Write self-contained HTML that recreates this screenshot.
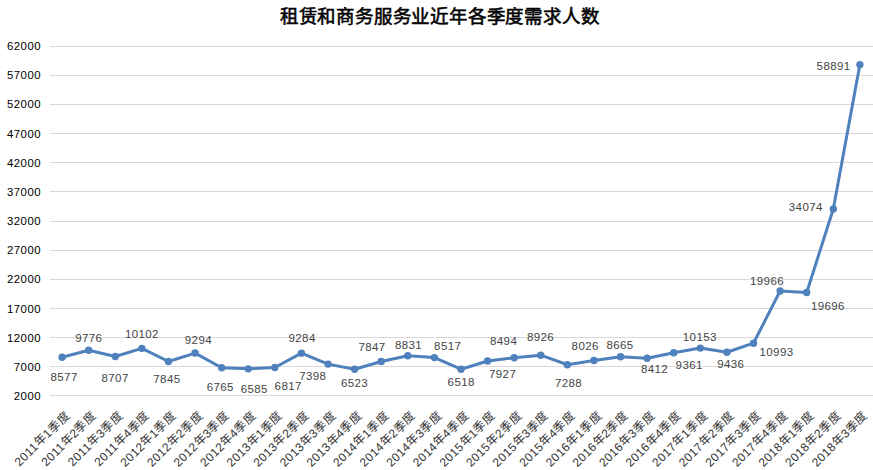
<!DOCTYPE html>
<html lang="zh-CN"><head><meta charset="utf-8"><style>
html,body{margin:0;padding:0;background:#fff;width:873px;height:470px;overflow:hidden}
svg{display:block}
text{font-family:"Liberation Sans",sans-serif}
</style></head><body>
<svg width="873" height="470" viewBox="0 0 873 470">
<rect width="873" height="470" fill="#fff"/>
<text x="439.6" y="22.8" text-anchor="middle" font-size="18.5" letter-spacing="-0.2" stroke="#000" stroke-width="0.55" fill="#000">租赁和商务服务业近年各季度需求人数</text>
<line x1="50" y1="46.5" x2="873" y2="46.5" stroke="#d9d9d9" stroke-width="1"/>
<text x="41.1" y="50.1" text-anchor="end" font-size="11.4" letter-spacing="0.5" fill="#000">62000</text>
<line x1="50" y1="75.5" x2="873" y2="75.5" stroke="#d9d9d9" stroke-width="1"/>
<text x="41.1" y="79.3" text-anchor="end" font-size="11.4" letter-spacing="0.5" fill="#000">57000</text>
<line x1="50" y1="104.5" x2="873" y2="104.5" stroke="#d9d9d9" stroke-width="1"/>
<text x="41.1" y="108.4" text-anchor="end" font-size="11.4" letter-spacing="0.5" fill="#000">52000</text>
<line x1="50" y1="133.5" x2="873" y2="133.5" stroke="#d9d9d9" stroke-width="1"/>
<text x="41.1" y="137.6" text-anchor="end" font-size="11.4" letter-spacing="0.5" fill="#000">47000</text>
<line x1="50" y1="162.5" x2="873" y2="162.5" stroke="#d9d9d9" stroke-width="1"/>
<text x="41.1" y="166.8" text-anchor="end" font-size="11.4" letter-spacing="0.5" fill="#000">42000</text>
<line x1="50" y1="191.5" x2="873" y2="191.5" stroke="#d9d9d9" stroke-width="1"/>
<text x="41.1" y="195.9" text-anchor="end" font-size="11.4" letter-spacing="0.5" fill="#000">37000</text>
<line x1="50" y1="221.5" x2="873" y2="221.5" stroke="#d9d9d9" stroke-width="1"/>
<text x="41.1" y="225.1" text-anchor="end" font-size="11.4" letter-spacing="0.5" fill="#000">32000</text>
<line x1="50" y1="250.5" x2="873" y2="250.5" stroke="#d9d9d9" stroke-width="1"/>
<text x="41.1" y="254.3" text-anchor="end" font-size="11.4" letter-spacing="0.5" fill="#000">27000</text>
<line x1="50" y1="279.5" x2="873" y2="279.5" stroke="#d9d9d9" stroke-width="1"/>
<text x="41.1" y="283.4" text-anchor="end" font-size="11.4" letter-spacing="0.5" fill="#000">22000</text>
<line x1="50" y1="308.5" x2="873" y2="308.5" stroke="#d9d9d9" stroke-width="1"/>
<text x="41.1" y="312.6" text-anchor="end" font-size="11.4" letter-spacing="0.5" fill="#000">17000</text>
<line x1="50" y1="337.5" x2="873" y2="337.5" stroke="#d9d9d9" stroke-width="1"/>
<text x="41.1" y="341.8" text-anchor="end" font-size="11.4" letter-spacing="0.5" fill="#000">12000</text>
<line x1="50" y1="366.5" x2="873" y2="366.5" stroke="#d9d9d9" stroke-width="1"/>
<text x="41.1" y="370.9" text-anchor="end" font-size="11.4" letter-spacing="0.5" fill="#000">7000</text>
<line x1="50" y1="395.5" x2="873" y2="395.5" stroke="#d9d9d9" stroke-width="1"/>
<text x="41.1" y="400.1" text-anchor="end" font-size="11.4" letter-spacing="0.5" fill="#000">2000</text>
<path d="M62.10,357.24 L88.69,350.27 L115.29,356.49 L141.88,348.37 L168.47,361.50 L195.06,353.07 L221.66,367.78 L248.25,368.83 L274.84,367.48 L301.44,353.13 L328.03,364.10 L354.62,369.19 L381.22,361.49 L407.81,355.77 L434.40,357.59 L461.00,369.22 L487.59,361.02 L514.18,357.73 L540.77,355.21 L567.37,364.74 L593.96,360.45 L620.55,356.73 L647.15,358.20 L673.74,352.68 L700.33,348.08 L726.93,352.25 L753.52,343.19 L780.11,291.00 L806.70,292.57 L833.30,208.94 L859.89,64.58" fill="none" stroke="#4f81bd" stroke-width="3" stroke-linejoin="round" stroke-linecap="round"/>
<circle cx="62.10" cy="357.24" r="3.7" fill="#4f81bd"/>
<circle cx="88.69" cy="350.27" r="3.7" fill="#4f81bd"/>
<circle cx="115.29" cy="356.49" r="3.7" fill="#4f81bd"/>
<circle cx="141.88" cy="348.37" r="3.7" fill="#4f81bd"/>
<circle cx="168.47" cy="361.50" r="3.7" fill="#4f81bd"/>
<circle cx="195.06" cy="353.07" r="3.7" fill="#4f81bd"/>
<circle cx="221.66" cy="367.78" r="3.7" fill="#4f81bd"/>
<circle cx="248.25" cy="368.83" r="3.7" fill="#4f81bd"/>
<circle cx="274.84" cy="367.48" r="3.7" fill="#4f81bd"/>
<circle cx="301.44" cy="353.13" r="3.7" fill="#4f81bd"/>
<circle cx="328.03" cy="364.10" r="3.7" fill="#4f81bd"/>
<circle cx="354.62" cy="369.19" r="3.7" fill="#4f81bd"/>
<circle cx="381.22" cy="361.49" r="3.7" fill="#4f81bd"/>
<circle cx="407.81" cy="355.77" r="3.7" fill="#4f81bd"/>
<circle cx="434.40" cy="357.59" r="3.7" fill="#4f81bd"/>
<circle cx="461.00" cy="369.22" r="3.7" fill="#4f81bd"/>
<circle cx="487.59" cy="361.02" r="3.7" fill="#4f81bd"/>
<circle cx="514.18" cy="357.73" r="3.7" fill="#4f81bd"/>
<circle cx="540.77" cy="355.21" r="3.7" fill="#4f81bd"/>
<circle cx="567.37" cy="364.74" r="3.7" fill="#4f81bd"/>
<circle cx="593.96" cy="360.45" r="3.7" fill="#4f81bd"/>
<circle cx="620.55" cy="356.73" r="3.7" fill="#4f81bd"/>
<circle cx="647.15" cy="358.20" r="3.7" fill="#4f81bd"/>
<circle cx="673.74" cy="352.68" r="3.7" fill="#4f81bd"/>
<circle cx="700.33" cy="348.08" r="3.7" fill="#4f81bd"/>
<circle cx="726.93" cy="352.25" r="3.7" fill="#4f81bd"/>
<circle cx="753.52" cy="343.19" r="3.7" fill="#4f81bd"/>
<circle cx="780.11" cy="291.00" r="3.7" fill="#4f81bd"/>
<circle cx="806.70" cy="292.57" r="3.7" fill="#4f81bd"/>
<circle cx="833.30" cy="208.94" r="3.7" fill="#4f81bd"/>
<circle cx="859.89" cy="64.58" r="3.7" fill="#4f81bd"/>
<text x="64.1" y="380.6" text-anchor="middle" font-size="11.5" letter-spacing="0.4" fill="#444">8577</text>
<text x="88.8" y="341.9" text-anchor="middle" font-size="11.5" letter-spacing="0.4" fill="#444">9776</text>
<text x="115.1" y="381.7" text-anchor="middle" font-size="11.5" letter-spacing="0.4" fill="#444">8707</text>
<text x="141.9" y="338.0" text-anchor="middle" font-size="11.5" letter-spacing="0.4" fill="#444">10102</text>
<text x="166.9" y="382.8" text-anchor="middle" font-size="11.5" letter-spacing="0.4" fill="#444">7845</text>
<text x="198.4" y="344.4" text-anchor="middle" font-size="11.5" letter-spacing="0.4" fill="#444">9294</text>
<text x="220.3" y="390.9" text-anchor="middle" font-size="11.5" letter-spacing="0.4" fill="#444">6765</text>
<text x="254.3" y="392.8" text-anchor="middle" font-size="11.5" letter-spacing="0.4" fill="#444">6585</text>
<text x="288.2" y="390.0" text-anchor="middle" font-size="11.5" letter-spacing="0.4" fill="#444">6817</text>
<text x="302.1" y="342.4" text-anchor="middle" font-size="11.5" letter-spacing="0.4" fill="#444">9284</text>
<text x="312.8" y="380.1" text-anchor="middle" font-size="11.5" letter-spacing="0.4" fill="#444">7398</text>
<text x="354.5" y="386.9" text-anchor="middle" font-size="11.5" letter-spacing="0.4" fill="#444">6523</text>
<text x="372.0" y="351.0" text-anchor="middle" font-size="11.5" letter-spacing="0.4" fill="#444">7847</text>
<text x="408.5" y="348.8" text-anchor="middle" font-size="11.5" letter-spacing="0.4" fill="#444">8831</text>
<text x="447.7" y="350.1" text-anchor="middle" font-size="11.5" letter-spacing="0.4" fill="#444">8517</text>
<text x="461.2" y="385.6" text-anchor="middle" font-size="11.5" letter-spacing="0.4" fill="#444">6518</text>
<text x="502.6" y="377.7" text-anchor="middle" font-size="11.5" letter-spacing="0.4" fill="#444">7927</text>
<text x="503.6" y="344.8" text-anchor="middle" font-size="11.5" letter-spacing="0.4" fill="#444">8494</text>
<text x="540.5" y="341.0" text-anchor="middle" font-size="11.5" letter-spacing="0.4" fill="#444">8926</text>
<text x="568.5" y="387.0" text-anchor="middle" font-size="11.5" letter-spacing="0.4" fill="#444">7288</text>
<text x="585.2" y="349.7" text-anchor="middle" font-size="11.5" letter-spacing="0.4" fill="#444">8026</text>
<text x="620.0" y="349.0" text-anchor="middle" font-size="11.5" letter-spacing="0.4" fill="#444">8665</text>
<text x="654.5" y="372.7" text-anchor="middle" font-size="11.5" letter-spacing="0.4" fill="#444">8412</text>
<text x="689.2" y="369.0" text-anchor="middle" font-size="11.5" letter-spacing="0.4" fill="#444">9361</text>
<text x="699.8" y="340.9" text-anchor="middle" font-size="11.5" letter-spacing="0.4" fill="#444">10153</text>
<text x="730.8" y="367.8" text-anchor="middle" font-size="11.5" letter-spacing="0.4" fill="#444">9436</text>
<text x="776.5" y="355.8" text-anchor="middle" font-size="11.5" letter-spacing="0.4" fill="#444">10993</text>
<text x="767.0" y="284.9" text-anchor="middle" font-size="11.5" letter-spacing="0.4" fill="#444">19966</text>
<text x="827.9" y="309.8" text-anchor="middle" font-size="11.5" letter-spacing="0.4" fill="#444">19696</text>
<text x="805.8" y="210.8" text-anchor="middle" font-size="11.5" letter-spacing="0.4" fill="#444">34074</text>
<text x="833.6" y="70.1" text-anchor="middle" font-size="11.5" letter-spacing="0.4" fill="#444">58891</text>
<text transform="translate(64.5,410.0) rotate(-45)" text-anchor="end" font-size="12" letter-spacing="0.45" fill="#333" dy="8.5">2011年1季度</text>
<text transform="translate(91.1,410.0) rotate(-45)" text-anchor="end" font-size="12" letter-spacing="0.45" fill="#333" dy="8.5">2011年2季度</text>
<text transform="translate(117.7,410.0) rotate(-45)" text-anchor="end" font-size="12" letter-spacing="0.45" fill="#333" dy="8.5">2011年3季度</text>
<text transform="translate(144.3,410.0) rotate(-45)" text-anchor="end" font-size="12" letter-spacing="0.45" fill="#333" dy="8.5">2011年4季度</text>
<text transform="translate(170.9,410.0) rotate(-45)" text-anchor="end" font-size="12" letter-spacing="0.45" fill="#333" dy="8.5">2012年1季度</text>
<text transform="translate(197.5,410.0) rotate(-45)" text-anchor="end" font-size="12" letter-spacing="0.45" fill="#333" dy="8.5">2012年2季度</text>
<text transform="translate(224.1,410.0) rotate(-45)" text-anchor="end" font-size="12" letter-spacing="0.45" fill="#333" dy="8.5">2012年3季度</text>
<text transform="translate(250.7,410.0) rotate(-45)" text-anchor="end" font-size="12" letter-spacing="0.45" fill="#333" dy="8.5">2012年4季度</text>
<text transform="translate(277.2,410.0) rotate(-45)" text-anchor="end" font-size="12" letter-spacing="0.45" fill="#333" dy="8.5">2013年1季度</text>
<text transform="translate(303.8,410.0) rotate(-45)" text-anchor="end" font-size="12" letter-spacing="0.45" fill="#333" dy="8.5">2013年2季度</text>
<text transform="translate(330.4,410.0) rotate(-45)" text-anchor="end" font-size="12" letter-spacing="0.45" fill="#333" dy="8.5">2013年3季度</text>
<text transform="translate(357.0,410.0) rotate(-45)" text-anchor="end" font-size="12" letter-spacing="0.45" fill="#333" dy="8.5">2013年4季度</text>
<text transform="translate(383.6,410.0) rotate(-45)" text-anchor="end" font-size="12" letter-spacing="0.45" fill="#333" dy="8.5">2014年1季度</text>
<text transform="translate(410.2,410.0) rotate(-45)" text-anchor="end" font-size="12" letter-spacing="0.45" fill="#333" dy="8.5">2014年2季度</text>
<text transform="translate(436.8,410.0) rotate(-45)" text-anchor="end" font-size="12" letter-spacing="0.45" fill="#333" dy="8.5">2014年3季度</text>
<text transform="translate(463.4,410.0) rotate(-45)" text-anchor="end" font-size="12" letter-spacing="0.45" fill="#333" dy="8.5">2014年4季度</text>
<text transform="translate(490.0,410.0) rotate(-45)" text-anchor="end" font-size="12" letter-spacing="0.45" fill="#333" dy="8.5">2015年1季度</text>
<text transform="translate(516.6,410.0) rotate(-45)" text-anchor="end" font-size="12" letter-spacing="0.45" fill="#333" dy="8.5">2015年2季度</text>
<text transform="translate(543.2,410.0) rotate(-45)" text-anchor="end" font-size="12" letter-spacing="0.45" fill="#333" dy="8.5">2015年3季度</text>
<text transform="translate(569.8,410.0) rotate(-45)" text-anchor="end" font-size="12" letter-spacing="0.45" fill="#333" dy="8.5">2015年4季度</text>
<text transform="translate(596.4,410.0) rotate(-45)" text-anchor="end" font-size="12" letter-spacing="0.45" fill="#333" dy="8.5">2016年1季度</text>
<text transform="translate(623.0,410.0) rotate(-45)" text-anchor="end" font-size="12" letter-spacing="0.45" fill="#333" dy="8.5">2016年2季度</text>
<text transform="translate(649.5,410.0) rotate(-45)" text-anchor="end" font-size="12" letter-spacing="0.45" fill="#333" dy="8.5">2016年3季度</text>
<text transform="translate(676.1,410.0) rotate(-45)" text-anchor="end" font-size="12" letter-spacing="0.45" fill="#333" dy="8.5">2016年4季度</text>
<text transform="translate(702.7,410.0) rotate(-45)" text-anchor="end" font-size="12" letter-spacing="0.45" fill="#333" dy="8.5">2017年1季度</text>
<text transform="translate(729.3,410.0) rotate(-45)" text-anchor="end" font-size="12" letter-spacing="0.45" fill="#333" dy="8.5">2017年2季度</text>
<text transform="translate(755.9,410.0) rotate(-45)" text-anchor="end" font-size="12" letter-spacing="0.45" fill="#333" dy="8.5">2017年3季度</text>
<text transform="translate(782.5,410.0) rotate(-45)" text-anchor="end" font-size="12" letter-spacing="0.45" fill="#333" dy="8.5">2017年4季度</text>
<text transform="translate(809.1,410.0) rotate(-45)" text-anchor="end" font-size="12" letter-spacing="0.45" fill="#333" dy="8.5">2018年1季度</text>
<text transform="translate(835.7,410.0) rotate(-45)" text-anchor="end" font-size="12" letter-spacing="0.45" fill="#333" dy="8.5">2018年2季度</text>
<text transform="translate(862.3,410.0) rotate(-45)" text-anchor="end" font-size="12" letter-spacing="0.45" fill="#333" dy="8.5">2018年3季度</text>
</svg></body></html>
